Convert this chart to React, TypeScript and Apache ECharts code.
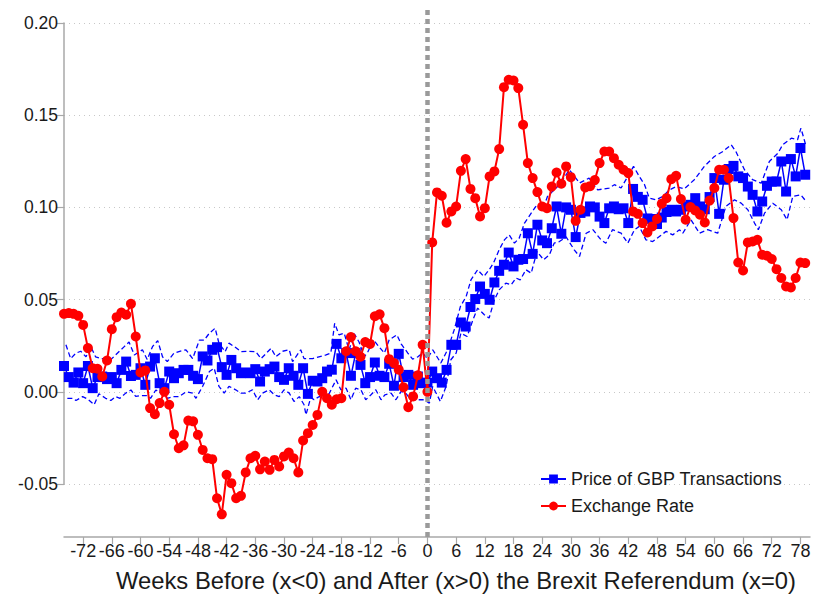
import React, { useEffect, useRef } from 'react';
import * as echarts from 'echarts';

const weeks: number[] = Array.from({ length: 156 }, (_, i) => i - 76);

const gbpPrice: number[] = [
  0.014, 0.008, 0.005, 0.0105, 0.0047, 0.014, 0.002, 0.008, 0.0083, 0.0069,
  0.008, 0.0047, 0.0119, 0.0164, 0.0086, 0.0092, 0.0128, 0.0038, 0.0137, 0.0182,
  0.0047, 0.002, 0.011, 0.0074, 0.0101, 0.0119, 0.0119, 0.0087, 0.0069, 0.0192,
  0.017, 0.0228, 0.0242, 0.0134, 0.0092, 0.0173, 0.0128, 0.0101, 0.0105, 0.0101,
  0.0123, 0.0056, 0.011, 0.0123, 0.0137, 0.008, 0.0065, 0.0128, 0.0087, 0.0038,
  0.0128, -0.0011, 0.006, 0.0056, 0.0074, 0.011, 0.012, 0.026, 0.0182, 0.021,
  0.0087, 0.021, 0.0146, 0.0047, 0.008, 0.0159, 0.0087, 0.008, 0.0152, 0.0033,
  0.0206, 0.008, 0.0092, 0.0038, 0.0083, 0.0047, 0.005, 0.011, 0.0074, 0.005,
  0.0119, 0.0255, 0.0255, 0.0376, 0.0354, 0.046, 0.0503, 0.0571, 0.0531, 0.0499,
  0.0593, 0.0656, 0.0689, 0.0755, 0.068, 0.0716, 0.072, 0.086, 0.0748, 0.0906,
  0.0821, 0.0806, 0.0887, 0.1005, 0.0857, 0.1, 0.0987, 0.0839, 0.097, 0.0978,
  0.1005, 0.1, 0.095, 0.0915, 0.0995, 0.1005, 0.099, 0.0995, 0.0915, 0.11,
  0.1057, 0.1041, 0.094, 0.0937, 0.091, 0.0945, 0.0975, 0.0987, 0.0978, 0.0987,
  0.1005, 0.1014, 0.105, 0.1005, 0.099, 0.1056, 0.1159, 0.0965, 0.115, 0.1208,
  0.1225, 0.1168, 0.1159, 0.1113, 0.1068, 0.0978, 0.1032, 0.1117, 0.114, 0.114,
  0.1249, 0.1086, 0.1262, 0.1168, 0.1322, 0.1177,
];

const exchangeRate: number[] = [
  0.0423, 0.0427, 0.0423, 0.0412, 0.0363, 0.0237, 0.0128, 0.0125, 0.0083, 0.017,
  0.034, 0.0405, 0.043, 0.0418, 0.0477, 0.03, 0.0105, 0.0116, -0.0088, -0.0121,
  -0.0061, 0.0, -0.007, -0.023, -0.0306, -0.029, -0.0156, -0.016, -0.0233, -0.0315,
  -0.036, -0.0365, -0.0577, -0.0664, -0.045, -0.0495, -0.0577, -0.0564, -0.0437, -0.036,
  -0.0347, -0.042, -0.0378, -0.0423, -0.0369, -0.0405, -0.035, -0.0329, -0.036, -0.0437,
  -0.0264, -0.0224, -0.018, -0.0125, 0.0, -0.0035, -0.007, -0.004, -0.0035, 0.022,
  0.0297, 0.022, 0.019, 0.027, 0.026, 0.041, 0.042, 0.0345, 0.0177, 0.0156,
  0.012, 0.0025, -0.0083, -0.0025, 0.009, 0.0255, 0.0, 0.081, 0.1081, 0.1063,
  0.0917, 0.0978, 0.1005, 0.1198, 0.1262, 0.11, 0.105, 0.0951, 0.0996, 0.1168,
  0.1195, 0.1316, 0.1652, 0.1692, 0.1688, 0.1647, 0.1448, 0.124, 0.1159, 0.1083,
  0.1005, 0.0996, 0.1113, 0.1189, 0.1128, 0.1222, 0.1164, 0.0927, 0.0987, 0.1108,
  0.1115, 0.1148, 0.124, 0.1303, 0.1303, 0.1267, 0.1231, 0.1204, 0.1186, 0.0978,
  0.0965, 0.0915, 0.0864, 0.0897, 0.0937, 0.102, 0.105, 0.1153, 0.1171, 0.1045,
  0.0933, 0.1002, 0.0983, 0.096, 0.0918, 0.1037, 0.1105, 0.1204, 0.1204, 0.1159,
  0.0942, 0.0701, 0.0658, 0.081, 0.0815, 0.0824, 0.0743, 0.0738, 0.072, 0.0665,
  0.0617, 0.0571, 0.0566, 0.0617, 0.0701, 0.0698,
];

const upperBand: [number, number][] = [
  [-75.6, 0.0255], [-74.6, 0.018], [-73.5, 0.021], [-72.5, 0.022], [-71.4, 0.019], [-70.4, 0.0245],
  [-69.4, 0.019], [-68.3, 0.018], [-67.3, 0.018], [-66.2, 0.0175], [-65.2, 0.02], [-63.4, 0.0245],
  [-62.4, 0.027], [-61.3, 0.02], [-59.6, 0.0228], [-58.6, 0.0175], [-57.5, 0.0245], [-56.4, 0.0278],
  [-55.4, 0.019], [-54.4, 0.0164], [-53, 0.021], [-51.8, 0.022], [-50.5, 0.0228], [-49.1, 0.018],
  [-47.7, 0.028], [-46.7, 0.028], [-45.6, 0.0318], [-44.4, 0.0345], [-43.6, 0.0264], [-42.3, 0.0218],
  [-41.5, 0.0264], [-40.1, 0.024], [-39, 0.0218], [-37.3, 0.022], [-35.9, 0.0218], [-34.8, 0.018],
  [-32.7, 0.0236], [-31.7, 0.019], [-30.3, 0.022], [-28.9, 0.0228], [-28.2, 0.0164], [-26.5, 0.0228],
  [-25.8, 0.018], [-24, 0.018], [-22.7, 0.019], [-21.2, 0.02], [-20.2, 0.021], [-19.4, 0.0372],
  [-18.5, 0.0309], [-17.4, 0.0318], [-16.4, 0.0227], [-15.3, 0.0315], [-14.3, 0.027], [-13.2, 0.019],
  [-12.4, 0.022], [-11.3, 0.0282], [-10.3, 0.025], [-9, 0.021], [-8, 0.0282], [-6.4, 0.0309],
  [-5.5, 0.026], [-4.1, 0.021], [-3.1, 0.0177], [-2, 0.019], [-1, 0.021], [0, 0.018],
  [1.1, 0.0228], [2.8, 0.0156], [4.2, 0.0228], [5.6, 0.0336], [6.9, 0.0463], [8.1, 0.0517],
  [9.1, 0.0607], [10.5, 0.0662], [11.8, 0.0625], [12.9, 0.0662], [13.8, 0.0698], [15, 0.077],
  [16.1, 0.0824], [17.1, 0.0851], [18.2, 0.0806], [19.2, 0.0834], [20.3, 0.0915], [21.7, 0.0969],
  [22.9, 0.1014], [24.1, 0.0987], [25.1, 0.1059], [26.5, 0.1095], [27.6, 0.1123], [29.7, 0.1204],
  [31.8, 0.1132], [33.8, 0.1159], [35.6, 0.1095], [38, 0.1105], [39.1, 0.1123], [40.5, 0.1105],
  [43.1, 0.1222], [44.3, 0.1168], [45.4, 0.1123], [46.4, 0.105], [47.8, 0.1041], [49.2, 0.1059],
  [50.6, 0.1095], [52, 0.1113], [53.7, 0.11], [55.8, 0.115], [57.9, 0.1222], [60, 0.1276],
  [61.8, 0.1303], [63.5, 0.134], [64.5, 0.1303], [66.3, 0.1204], [68, 0.115], [69.8, 0.1131],
  [71.5, 0.1249], [73.3, 0.1294], [74.3, 0.134], [76.1, 0.1375], [77.4, 0.1367], [78.1, 0.143],
  [79.2, 0.133],
];

const lowerBand: [number, number][] = [
  [-75.3, -0.0035], [-74.2, -0.0035], [-73.5, -0.0047], [-72.1, -0.0026], [-71, -0.004], [-69.7, -0.007],
  [-68.7, -0.001], [-67.3, -0.0035], [-66.2, -0.0047], [-65.2, -0.0026], [-64.3, -0.0035], [-63.1, -0.0007],
  [-62, 0.001], [-61, -0.0025], [-60, -0.002], [-58.7, -0.002], [-57.9, -0.0035], [-56.8, 0.001],
  [-55.8, -0.0005], [-54.4, -0.0035], [-53.3, -0.0026], [-51.9, -0.0026], [-50.5, 0.0], [-49.1, -0.0007],
  [-48.4, -0.0035], [-47, 0.003], [-45.6, 0.011], [-44.6, 0.0128], [-43.6, 0.003], [-42.5, -0.0007],
  [-41.5, 0.003], [-40.1, 0.0011], [-39, -0.0007], [-38, -0.0007], [-36.6, 0.0011], [-35.5, -0.0043],
  [-34.5, -0.0007], [-33.1, 0.0011], [-32, -0.0016], [-31, -0.0026], [-30, 0.0011], [-28.9, -0.0007],
  [-27.9, -0.0052], [-26.8, -0.0026], [-25.8, -0.007], [-25.4, -0.0125], [-24.4, -0.003], [-23.7, -0.0043],
  [-22.6, -0.0025], [-21.6, -0.0043], [-20.5, -0.0007], [-19.1, 0.0065], [-18.1, 0.0011], [-17, 0.002],
  [-16, -0.0043], [-15, 0.002], [-13.9, 0.0011], [-12.9, -0.0043], [-11.8, -0.0016], [-10.8, 0.0011],
  [-9.7, -0.0043], [-8.9, -0.0016], [-7.6, -0.0007], [-6.6, -0.0043], [-5.5, 0.0002], [-4.5, -0.0007],
  [-3.5, -0.0043], [-2, -0.0043], [-0.7, -0.0043], [0.4, -0.0061], [1.1, 0.0029], [2.7, -0.0052],
  [3.9, 0.0029], [4.9, 0.0174], [6, 0.021], [7, 0.0318], [8.3, 0.03], [9.5, 0.039],
  [10.5, 0.0454], [11.9, 0.0418], [12.9, 0.04], [14, 0.0499], [15, 0.0553], [16.4, 0.0589],
  [17.5, 0.058], [18.5, 0.0617], [19.4, 0.0607], [20.6, 0.0662], [21.7, 0.0643], [22.9, 0.0761],
  [24.3, 0.0716], [25.5, 0.0743], [26.5, 0.0806], [27.6, 0.0815], [29, 0.084], [30.7, 0.077],
  [31.8, 0.0734], [33.2, 0.086], [34.6, 0.0879], [36.3, 0.0824], [37.3, 0.0806], [38.7, 0.0879],
  [40.5, 0.086], [41.9, 0.0806], [43.3, 0.0879], [44.3, 0.0897], [45.7, 0.0824], [47.1, 0.0815],
  [48.5, 0.0842], [49.9, 0.087], [51.3, 0.0851], [52.7, 0.0879], [53.4, 0.086], [55.1, 0.0933],
  [56.9, 0.086], [58.6, 0.0879], [60.7, 0.086], [62.4, 0.1005], [64.2, 0.1041], [65.6, 0.1023],
  [67, 0.0987], [68.4, 0.0915], [69.2, 0.0879], [70.5, 0.0969], [72.2, 0.1023], [74, 0.0987],
  [75.2, 0.0933], [76.4, 0.1059], [78.1, 0.1068], [79.2, 0.1032],
];

const xTicks: number[] = [-72, -66, -60, -54, -48, -42, -36, -30, -24, -18, -12, -6, 0, 6, 12, 18, 24, 30, 36, 42, 48, 54, 60, 66, 72, 78];

const FONT = '"Liberation Sans", Arial, Helvetica, sans-serif';
const TEXT = '#1a1a1a';
const AXIS = '#a8a8a8';

export default function App() {
  const ref = useRef<HTMLDivElement>(null);
  useEffect(() => {
    const chart = echarts.init(ref.current as HTMLDivElement, null, { renderer: 'svg' });
    chart.setOption({
      animation: false,
      backgroundColor: '#ffffff',
      textStyle: { fontFamily: FONT },
      grid: [
        { left: 64, right: 5, top: 8, bottom: 60 },
        { left: 64, right: 5, top: 23, bottom: 113 },
      ],
      legend: {
        data: ['Price of GBP Transactions', 'Exchange Rate'],
        orient: 'vertical',
        left: 535,
        top: 465,
        itemWidth: 25,
        itemHeight: 11,
        itemGap: 9,
        textStyle: { fontSize: 18, color: TEXT, fontFamily: FONT },
      },
      xAxis: [
        {
          gridIndex: 0,
          type: 'value',
          min: -76,
          max: 80,
          axisLine: { onZero: false, lineStyle: { color: AXIS, width: 1.5 } },
          axisTick: { customValues: xTicks, length: 7, lineStyle: { color: AXIS, width: 1.2 } },
          axisLabel: { customValues: xTicks, fontSize: 18, color: TEXT, margin: 5, fontFamily: FONT },
          splitLine: { show: false },
          name: 'Weeks Before (x<0) and After (x>0) the Brexit Referendum (x=0)',
          nameLocation: 'middle',
          nameGap: 31,
          nameTextStyle: { fontSize: 23.8, color: TEXT, fontFamily: FONT, padding: [0, 0, 0, 38] },
        },
        { gridIndex: 1, type: 'value', min: -76, max: 80, show: false },
      ],
      yAxis: [
        { gridIndex: 0, type: 'value', min: -0.0787, max: 0.2081, show: false },
        {
          gridIndex: 1,
          type: 'value',
          min: -0.05,
          max: 0.2,
          interval: 0.05,
          axisLine: { show: true, onZero: false, lineStyle: { color: AXIS, width: 1.5 } },
          axisTick: { show: true, length: 7, lineStyle: { color: AXIS, width: 1.2 } },
          axisLabel: {
            fontSize: 17.5,
            color: TEXT,
            margin: 6,
            fontFamily: FONT,
            formatter: (v: number) => v.toFixed(2),
          },
          splitLine: { show: true, lineStyle: { color: '#c8c8c8', width: 1, type: [1, 4] } },
        },
      ],
      series: [
        {
          type: 'line',
          name: 'upper',
          xAxisIndex: 0,
          yAxisIndex: 0,
          data: upperBand,
          symbol: 'none',
          silent: true,
          z: 1,
          lineStyle: { color: '#0000ff', width: 1.3, type: [5, 3] },
          markLine: {
            symbol: 'none',
            silent: true,
            label: { show: false },
            lineStyle: { color: '#9a9a9a', width: 4.5, type: [5, 4] },
            data: [{ xAxis: 0 }],
          },
        },
        {
          type: 'line',
          name: 'lower',
          xAxisIndex: 0,
          yAxisIndex: 0,
          data: lowerBand,
          symbol: 'none',
          silent: true,
          z: 1,
          lineStyle: { color: '#0000ff', width: 1.3, type: [5, 3] },
        },
        {
          type: 'line',
          name: 'Price of GBP Transactions',
          xAxisIndex: 0,
          yAxisIndex: 0,
          data: weeks.map((w, i) => [w, gbpPrice[i]]),
          symbol: 'rect',
          symbolSize: 10,
          z: 3,
          itemStyle: { color: '#0000ff' },
          lineStyle: { color: '#0000ff', width: 1.5 },
        },
        {
          type: 'line',
          name: 'Exchange Rate',
          xAxisIndex: 0,
          yAxisIndex: 0,
          data: weeks.map((w, i) => [w, exchangeRate[i]]),
          symbol: 'circle',
          symbolSize: 10,
          z: 4,
          itemStyle: { color: '#ff0000' },
          lineStyle: { color: '#ff0000', width: 2 },
        },
      ],
    });
    return () => chart.dispose();
  }, []);
  return (
    <div
      ref={ref}
      style={{ position: 'fixed', left: 0, top: 0, width: 815, height: 597, background: '#ffffff' }}
    />
  );
}
